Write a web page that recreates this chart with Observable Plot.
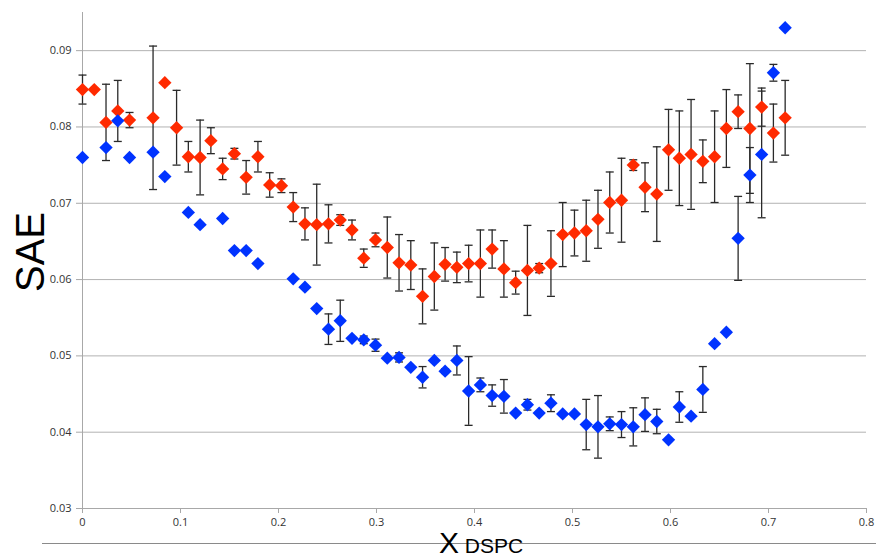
<!DOCTYPE html>
<html>
<head>
<meta charset="utf-8">
<script src="https://cdn.jsdelivr.net/npm/d3@7"></script>
<script src="https://cdn.jsdelivr.net/npm/@observablehq/plot@0.6"></script>
<style>
  html, body { margin: 0; padding: 0; background: #fff; }
  #wrap { position: relative; width: 876px; height: 559px; overflow: hidden; }
  #chart svg { display: block; }
  g[aria-label="red"], g[aria-label="blue"] { filter: drop-shadow(1px 1.5px 1px rgba(0,0,0,0.3)); }
  #ylab { position: absolute; left: 30px; top: 252px; transform: translate(-50%, -50%) rotate(-90deg);
          font-family: "Liberation Sans", Arial, sans-serif; font-size: 40px; color: #000; white-space: nowrap; line-height: 1; }
  #xline { position: absolute; left: 42px; right: 0; top: 543px; border-top: 1px solid #8a8a8a; }
  #xlab { position: absolute; left: 439px; top: 528px; font-family: "Liberation Sans", Arial, sans-serif; color: #000; white-space: nowrap; line-height: 1; }
  #xlab .big { font-size: 30px; }
  #xlab .small { font-size: 21px; }
</style>
</head>
<body>
<div id="wrap">
  <div id="chart"></div>
  <div id="ylab">SAE</div>
  <div id="xline"></div>
  <div id="xlab"><span class="big">X</span><span class="small"> DSPC</span></div>
</div>
<script>
const xDSPC = [0.000, 0.012, 0.024, 0.036, 0.048, 0.060, 0.072, 0.084, 0.096, 0.108,
  0.120, 0.131, 0.143, 0.155, 0.167, 0.179, 0.191, 0.203, 0.215, 0.227,
  0.239, 0.251, 0.263, 0.275, 0.287, 0.299, 0.311, 0.323, 0.335, 0.347,
  0.359, 0.370, 0.382, 0.394, 0.406, 0.418, 0.430, 0.442, 0.454, 0.466,
  0.478, 0.490, 0.502, 0.514, 0.526, 0.538, 0.550, 0.562, 0.574, 0.586,
  0.598, 0.609, 0.621, 0.633, 0.645, 0.657, 0.669, 0.681, 0.693, 0.705, 0.717];

const redSAE = [0.0849, 0.0849, 0.0806, 0.0821, 0.0809, null, 0.0812, 0.0858, 0.0799, 0.0761,
  0.0760, 0.0782, 0.0745, 0.0765, 0.0734, 0.0761, 0.0724, 0.0723, 0.0695, 0.0673,
  0.0672, 0.0673, 0.0678, 0.0665, 0.0628, 0.0652, 0.0642, 0.0622, 0.0619, 0.0578,
  0.0604, 0.0620, 0.0616, 0.0621, 0.0621, 0.0640, 0.0614, 0.0596, 0.0612, 0.0615,
  0.0621, 0.0659, 0.0661, 0.0664, 0.0679, 0.0701, 0.0704, 0.0750, 0.0721, 0.0712,
  0.0770, 0.0759, 0.0764, 0.0755, 0.0761, 0.0798, 0.0820, 0.0798, 0.0826, 0.0792, 0.0812];

const redErr = [0.0019, 0, 0.0050, 0.0040, 0.0010, null, 0.0094, 0, 0.0049, 0.0020,
  0.0049, 0.0017, 0.0014, 0.0007, 0.0022, 0.0020, 0.0016, 0.0009, 0.0019, 0.0021,
  0.0053, 0.0025, 0.0007, 0.0013, 0.0012, 0.0009, 0.0040, 0.0037, 0.0032, 0.0036,
  0.0044, 0.0022, 0.0020, 0.0024, 0.0044, 0.0025, 0.0037, 0.0015, 0.0059, 0.0006,
  0.0043, 0.0042, 0.0030, 0.0040, 0.0038, 0.0040, 0.0055, 0.0007, 0.0032, 0.0062,
  0.0053, 0.0062, 0.0072, 0.0028, 0.0060, 0.0051, 0.0022, 0.0085, 0.0025, 0.0038, 0.0049];

const blueSAE = [0.0760, null, 0.0773, 0.0808, 0.0760, null, 0.0767, 0.0735, null, 0.0688,
  0.0672, null, 0.0680, 0.0638, 0.0638, 0.0621, null, null, 0.0601, 0.0590,
  0.0562, 0.0535, 0.0546, 0.0523, 0.0521, 0.0514, 0.0497, 0.0498, 0.0485, 0.0472,
  0.0494, 0.0480, 0.0494, 0.0454, 0.0462, 0.0448, 0.0447, 0.0425, 0.0436, 0.0425,
  0.0438, 0.0424, 0.0424, 0.0410, 0.0407, 0.0411, 0.0410, 0.0407, 0.0423, 0.0414,
  0.0390, 0.0433, 0.0421, 0.0456, 0.0516, 0.0531, 0.0654, 0.0737, 0.0764, 0.0871, 0.0930];

const blueErr = [0, null, 0, 0, 0, null, 0, 0, null, 0,
  0, null, 0, 0, 0, 0, null, null, 0, 0,
  0, 0.0020, 0.0027, 0, 0.0005, 0.0008, 0, 0.0006, 0, 0.0014,
  0, 0.0003, 0.0019, 0.0045, 0.0009, 0.0014, 0.0022, 0, 0.0007, 0,
  0.0011, 0, 0, 0.0033, 0.0041, 0.0009, 0.0017, 0.0025, 0.0022, 0.0016,
  0, 0.0020, 0, 0.0030, 0, 0, 0.0055, 0.0036, 0.0083, 0.0011, 0];

const yTicks = [0.03, 0.04, 0.05, 0.06, 0.07, 0.08, 0.09];
const yGrid = [0.04, 0.05, 0.06, 0.07, 0.08, 0.09];
const xTicks = [0, 0.1, 0.2, 0.3, 0.4, 0.5, 0.6, 0.7, 0.8];

const red = xDSPC.map((x, i) => ({x, y: redSAE[i], e: redErr[i]})).filter(d => d.y != null);
const blue = xDSPC.map((x, i) => ({x, y: blueSAE[i], e: blueErr[i]})).filter(d => d.y != null);
const bars = [...red, ...blue].filter(d => d.e > 0);

const capSymbol = { draw(ctx) { ctx.moveTo(-4, 0); ctx.lineTo(4, 0); } };

const chart = Plot.plot({
  width: 876,
  height: 559,
  marginLeft: 82,
  marginRight: 10,
  marginTop: 12,
  marginBottom: 51,
  style: { fontFamily: "'Open Sans', sans-serif", fontSize: "11px", background: "#fff" },
  x: { domain: [0, 0.8] },
  y: { domain: [0.03, 0.095] },
  marks: [
    Plot.ruleY(yGrid, { stroke: "#b3b3b3", strokeWidth: 1 }),
    Plot.ruleY([0.03], { stroke: "#a8a8a8", strokeWidth: 1 }),
    Plot.ruleX([0], { y1: 0.03, y2: 0.095, stroke: "#a8a8a8", strokeWidth: 1 }),
    Plot.axisY({ ticks: yTicks, tickFormat: d3.format(".2f"), tickSize: 6, tickPadding: 5,
                 stroke: "#a8a8a8", fill: "#333", label: null }),
    Plot.axisX({ ticks: xTicks, tickFormat: d3.format("~g"), tickSize: 5, tickPadding: 5,
                 stroke: "#a8a8a8", fill: "#333", label: null }),
    Plot.ruleX(bars, { x: "x", y1: d => d.y - d.e, y2: d => d.y + d.e, stroke: "#2a2a2a", strokeWidth: 1.3 }),
    Plot.dot(bars, { x: "x", y: d => d.y + d.e, symbol: capSymbol, r: 4, fill: "none", stroke: "#2a2a2a", strokeWidth: 1.3 }),
    Plot.dot(bars, { x: "x", y: d => d.y - d.e, symbol: capSymbol, r: 4, fill: "none", stroke: "#2a2a2a", strokeWidth: 1.3 }),
    Plot.dot(red, { x: "x", y: "y", symbol: "diamond2", r: 6, fill: "#ff2a00", stroke: "none", ariaLabel: "red" }),
    Plot.dot(blue, { x: "x", y: "y", symbol: "diamond2", r: 6, fill: "#0033ff", stroke: "none", ariaLabel: "blue" })
  ]
});
document.getElementById("chart").appendChild(chart);
</script>
</body>
</html>
